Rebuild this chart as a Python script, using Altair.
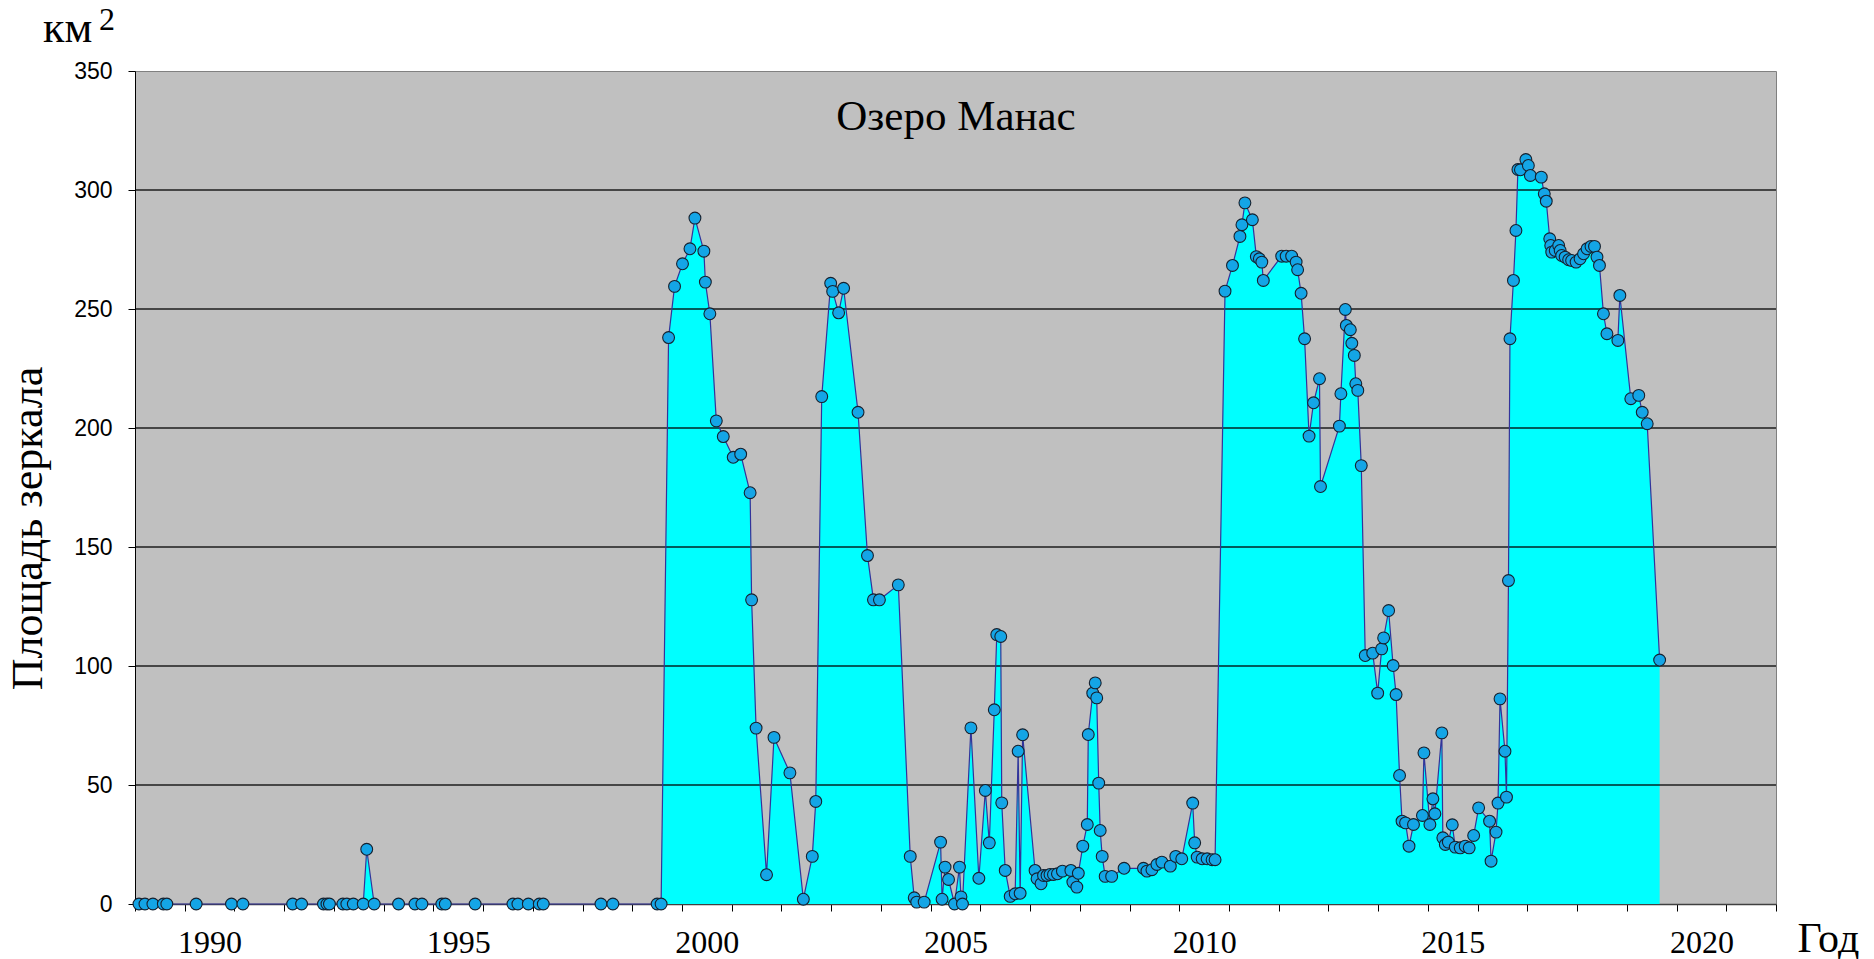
import altair as alt
import pandas as pd

# Survey dates (decimal years) and water-surface area of Lake Manas, km^2
years = [
    1989.08, 1989.20, 1989.36, 1989.57, 1989.64, 1990.23, 1990.94, 1991.17,
    1992.17, 1992.35, 1992.79, 1992.86, 1992.91, 1993.18, 1993.26, 1993.39,
    1993.59, 1993.66, 1993.81, 1994.30, 1994.63, 1994.77, 1995.17, 1995.24,
    1995.84, 1996.60, 1996.70, 1996.91, 1997.13, 1997.21, 1998.37, 1998.61,
    1999.50, 1999.58,
    1999.73, 1999.85, 2000.01, 2000.16, 2000.26, 2000.44, 2000.47, 2000.56,
    2000.69, 2000.83, 2001.03, 2001.18, 2001.37, 2001.40, 2001.49, 2001.70,
    2001.85, 2002.17, 2002.44, 2002.62, 2002.69,
    2002.81, 2002.99, 2003.03, 2003.15, 2003.25, 2003.54, 2003.73, 2003.85,
    2003.97, 2004.35, 2004.59, 2004.67, 2004.72, 2004.87,
    2005.20, 2005.23, 2005.29, 2005.36, 2005.48, 2005.58, 2005.61, 2005.64,
    2005.81, 2005.97, 2006.10, 2006.18, 2006.28, 2006.33, 2006.41, 2006.43,
    2006.50, 2006.60, 2006.70, 2006.76, 2006.80, 2006.85,
    2007.10, 2007.14, 2007.22, 2007.27, 2007.34, 2007.40, 2007.47, 2007.55,
    2007.65, 2007.82, 2007.86, 2007.94, 2007.97, 2008.06, 2008.15, 2008.17,
    2008.26, 2008.31, 2008.34, 2008.38, 2008.41, 2008.45, 2008.51, 2008.64,
    2008.89, 2009.28, 2009.35, 2009.45, 2009.55, 2009.65, 2009.82, 2009.93,
    2010.05, 2010.27, 2010.31, 2010.36, 2010.46, 2010.56, 2010.66, 2010.72,
    2010.92, 2011.07, 2011.22, 2011.26, 2011.32, 2011.47, 2011.55, 2011.61,
    2011.66, 2011.69, 2012.06, 2012.15, 2012.26, 2012.35, 2012.38, 2012.45,
    2012.52, 2012.61, 2012.70, 2012.82, 2012.84, 2013.22, 2013.25, 2013.34,
    2013.36, 2013.44, 2013.47, 2013.52, 2013.55, 2013.59, 2013.66,
    2013.74, 2013.89, 2013.99, 2014.07, 2014.11, 2014.21, 2014.30, 2014.36,
    2014.43, 2014.48, 2014.55, 2014.62, 2014.71, 2014.89, 2014.92, 2015.04,
    2015.10, 2015.14, 2015.28, 2015.30, 2015.35, 2015.41, 2015.49, 2015.55,
    2015.65, 2015.75, 2015.83, 2015.92, 2016.02, 2016.24, 2016.27, 2016.37,
    2016.41, 2016.45, 2016.55, 2016.58, 2016.62,
    2016.65, 2016.72, 2016.77, 2016.81, 2016.86, 2016.97, 2017.02, 2017.06,
    2017.28, 2017.34, 2017.38, 2017.45, 2017.47, 2017.49, 2017.56, 2017.63,
    2017.66, 2017.69, 2017.76, 2017.83, 2017.89, 2017.98, 2018.06, 2018.13,
    2018.20, 2018.28, 2018.35, 2018.40, 2018.45, 2018.53, 2018.60, 2018.82,
    2018.86, 2019.08, 2019.24, 2019.31, 2019.41, 2019.66,
]

area_km2 = [
    0, 0, 0, 0, 0, 0, 0, 0,
    0, 0, 0, 0, 0, 0, 0, 0,
    0, 23, 0, 0, 0, 0, 0, 0,
    0, 0, 0, 0, 0, 0, 0, 0,
    0, 0,
    238, 259.5, 269, 275.3, 288.2, 274.3, 261.3, 248,
    203, 196.4, 187.7, 189, 172.8, 127.8, 73.9, 12.3,
    70, 55.1, 2, 20, 43.1,
    213.2, 260.8, 257.4, 248.4, 258.7, 206.6, 146.4, 127.8,
    127.8, 134.1, 20, 2.6, 0.8, 0.8,
    26, 2, 15.5, 10.3, 0, 15.5, 3, 0,
    74, 10.8, 47.7, 25.7, 81.6, 113.2, 112.4, 42.5,
    14.1, 3.2, 4.3, 64.2, 4.5, 71.1,
    14.1, 10.6, 8.5, 12, 12, 12.4, 12.4, 12.7,
    13.8, 14.1, 9.2, 7.1, 12.9, 24.3, 33.4, 71.2,
    88.6, 92.9, 86.6, 50.8, 30.9, 20, 11.6, 11.6,
    15, 15, 13.8, 14.4, 16.6, 17.6, 15.9, 20,
    19, 42.4, 25.7, 19.7, 19, 19, 18.6, 18.6,
    257.5, 268.3, 280.5, 285.4, 294.6, 287.5, 272, 271.1,
    269.7, 262, 272.2, 272.2, 272.2, 269.7, 266.5, 256.6,
    237.5, 196.6, 210.6, 220.7, 175.4, 200.8, 214.4, 249.8,
    243.1, 241.3, 235.6, 230.5, 218.6, 215.8, 184.2,
    104.4, 105.4, 88.6, 107.2, 111.8, 123.3, 100.2, 88,
    54, 34.8, 34.1, 24.3, 33.4, 37.2, 63.5, 33.4,
    44.2, 37.9, 71.9, 27.8, 25, 26, 33.3, 23.9,
    23.6, 24.3, 23.6, 28.8, 40.4, 34.8, 18, 30.2,
    42.4, 86.2, 64.2, 44.9, 135.9,
    237.5, 262, 283, 308.6, 308.5, 312.8, 310.3, 306.1,
    305.4, 298.4, 295.3, 279.5, 276.7, 273.9, 274.6, 276.7,
    274.6, 272.5, 271.8, 270.7, 270.4, 269.7, 271.1, 273.2,
    275.3, 276.3, 276.3, 271.8, 268.3, 248, 239.6, 236.8,
    255.7, 212.3, 213.7, 206.6, 201.8, 102.5,
]

year_ticks = list(range(1989, 2023))
area_ticks = [0, 50, 100, 150, 200, 250, 300, 350]
grid_levels = [50, 100, 150, 200, 250, 300]

SERIF = "Liberation Serif"
SANS = "Liberation Sans"
W, H = 1641, 833

df = pd.DataFrame({"year": years, "area": area_km2})
grid_df = pd.DataFrame({"level": grid_levels})

x_scale = alt.Scale(domain=[1989, 2022], nice=False, zero=False)
y_scale = alt.Scale(domain=[0, 350], nice=False)

x_axis = alt.Axis(
    values=year_ticks,
    tickSize=7, tickColor="black", tickWidth=1,
    labelExpr="datum.value % 5 == 0 ? '' + datum.value : ''",
    labelOffset=W / 33 / 2,
    labelFont=SERIF, labelFontSize=32, labelColor="black",
    labelBaseline="alphabetic", labelPadding=41,
    labelOverlap=False, labelFlush=False,
    grid=False, domainColor="#404040", domainWidth=1.5,
    title="Год", titleFont=SERIF, titleFontSize=42, titleFontWeight="normal",
    titleColor="black", titleAngle=0, titleAlign="left",
    titleBaseline="alphabetic", titleX=1662, titleY=47,
)

y_axis = alt.Axis(
    values=area_ticks,
    tickSize=7, tickColor="black", tickWidth=1,
    labelFont=SANS, labelFontSize=23, labelColor="black", labelPadding=16,
    grid=False, domainColor="black", domainWidth=1,
    title="Площадь зеркала", titleFont=SERIF, titleFontSize=44,
    titleFontWeight="normal", titleColor="black", titleAngle=270,
    titleAlign="center", titleBaseline="middle", titleX=-107, titleY=457,
)

base = alt.Chart(df).encode(
    x=alt.X("year:Q", scale=x_scale, axis=x_axis),
    y=alt.Y("area:Q", scale=y_scale, axis=y_axis),
)

fill = base.mark_area(color="#00FFFF", opacity=1, interpolate="linear")

grid = alt.Chart(grid_df).mark_rule(
    color="black", strokeWidth=1.5, opacity=0.85
).encode(y=alt.Y("level:Q", scale=y_scale))

line = base.mark_line(color="#33339A", strokeWidth=1.2, interpolate="linear")

points = base.mark_point(
    shape="circle", filled=True, size=140, fill="#14A5E6", opacity=1,
    stroke="#16202E", strokeWidth=1.1,
)


def label(text, x, y, size, align="left"):
    return alt.Chart(pd.DataFrame({"t": [text]})).mark_text(
        font=SERIF, fontSize=size, color="black", align=align,
        baseline="alphabetic",
    ).encode(x=alt.value(x), y=alt.value(y), text="t:N")


title = label("Озеро Манас", 821, 59, 43, align="center")
unit = label("км", -92, -29, 44)
unit_pow = label("2", -36, -41, 32)

chart = alt.layer(fill, grid, line, points, title, unit, unit_pow).properties(
    width=W, height=H,
    autosize=alt.AutoSizeParams(type="none"),
    padding={"left": 135, "top": 71, "right": 98, "bottom": 55},
    background="white",
).configure_view(fill="#C0C0C0", stroke="#808080", strokeWidth=1)

chart.save("out.html", embed_options={"renderer": "svg", "actions": False})
